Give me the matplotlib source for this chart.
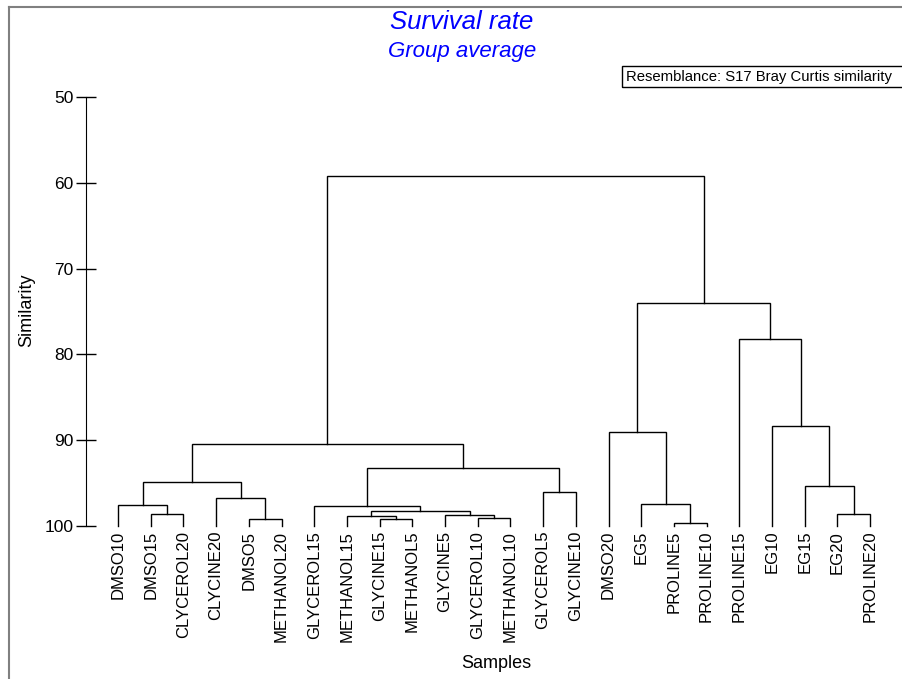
import matplotlib
matplotlib.use("Agg")
import matplotlib.pyplot as plt
from matplotlib.patches import Rectangle
from matplotlib.lines import Line2D

plt.rcParams['font.family'] = ['Liberation Sans', 'DejaVu Sans']

# leaf order as shown along the bottom
samples = ["DMSO10", "DMSO15", "CLYCEROL20", "CLYCINE20", "DMSO5", "METHANOL20",
           "GLYCEROL15", "METHANOL15", "GLYCINE15", "METHANOL5", "GLYCINE5",
           "GLYCEROL10", "METHANOL10", "GLYCEROL5", "GLYCINE10", "DMSO20", "EG5",
           "PROLINE5", "PROLINE10", "PROLINE15", "EG10", "EG15", "EG20", "PROLINE20"]

# merges: (child a, child b, similarity); ids >= 24 are earlier merges in order
merge_a = [17, 4, 8, 11, 7, 10, 1, 22, 28, 6, 0, 16, 3, 13, 21, 34, 33, 39, 15, 20, 19, 42, 41]
merge_b = [18, 5, 9, 12, 26, 27, 2, 23, 29, 32, 30, 24, 25, 14, 31, 36, 37, 40, 35, 38, 43, 44, 45]
merge_sim = [99.6, 99.2, 99.2, 99.1, 98.8, 98.7, 98.6, 98.6, 98.2, 97.7, 97.6, 97.4,
             96.7, 96.0, 95.3, 94.9, 93.2, 90.4, 89.0, 88.4, 78.2, 74.0, 59.2]

yticks = [50, 60, 70, 80, 90, 100]

W, H = 903, 679
fig = plt.figure(figsize=(W / 100, H / 100), dpi=100)
ax = fig.add_axes([86 / W, 1 - 526 / H, (895 - 86) / W, (526 - 97) / H])

n = len(samples)
xpos = list(range(n))
ypos = [100.0] * n
for a, b, s in zip(merge_a, merge_b, merge_sim):
    xa, xb = xpos[a], xpos[b]
    ax.plot([xa, xa, xb, xb], [ypos[a], s, s, ypos[b]], color='black', lw=1.0,
            solid_joinstyle='miter', clip_on=False)
    xpos.append((xa + xb) / 2)
    ypos.append(s)

ax.set_ylim(100, 50)
ax.set_xlim(-(118 - 86) / 32.7, (895 - 118) / 32.7)
ax.set_yticks(yticks)
ax.tick_params(axis='y', direction='inout', length=15, width=1, labelsize=12.5, pad=1.5)
ax.set_xticks(range(n))
ax.set_xticklabels(samples, rotation=90, fontsize=12)
ax.tick_params(axis='x', length=0, pad=3.5)
for side in ['top', 'right', 'bottom']:
    ax.spines[side].set_visible(False)

fig.text(462 / W, 1 - 22 / H, "Survival rate", color='#0000ff', style='italic',
         fontsize=18.5, ha='center', va='center')
fig.text(462 / W, 1 - 52 / H, "Group average", color='#0000ff', style='italic',
         fontsize=16, ha='center', va='center')
fig.text(27 / W, 1 - 310 / H, "Similarity", rotation=90, fontsize=13, ha='center', va='center')
fig.text(496 / W, 1 - 663 / H, "Samples", fontsize=13, ha='center', va='center')

fig.patches.append(Rectangle((622 / W, 1 - 87 / H), (910 - 622) / W, 21 / H,
                             transform=fig.transFigure, fill=False, ec='black', lw=1))
fig.text(626 / W, 1 - 76.5 / H, "Resemblance: S17 Bray Curtis similarity",
         fontsize=10.7, ha='left', va='center')

# outer frame (left and top edges visible)
fig.lines.append(Line2D([9.5 / W, 9.5 / W], [0, 1 - 7 / H], transform=fig.transFigure,
                        color='#808080', lw=1.5))
fig.lines.append(Line2D([9.5 / W, 1], [1 - 7 / H, 1 - 7 / H], transform=fig.transFigure,
                        color='#808080', lw=1.5))

fig.savefig("out.png", dpi=100)
